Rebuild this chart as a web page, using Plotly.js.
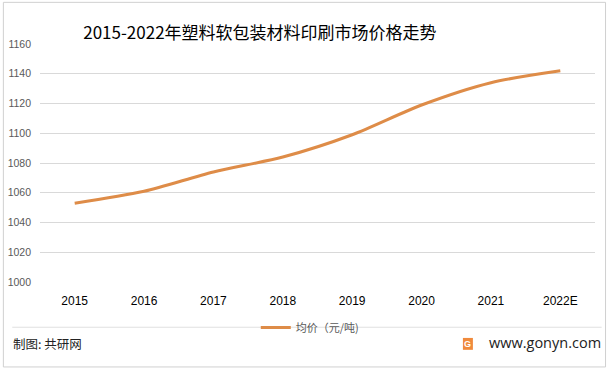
<!DOCTYPE html>
<html>
<head>
<meta charset="utf-8">
<script src="https://cdn.plot.ly/plotly-3.0.1.min.js"></script>
<style>
html,body{margin:0;padding:0;background:#fff;}
#chart{width:613px;height:371px;}
</style>
</head>
<body>
<div id="chart"></div>
<script>
const categories = ["2015","2016","2017","2018","2019","2020","2021","2022E"];
const avgPrice = [1053, 1061, 1074, 1084, 1099, 1119, 1134, 1142];
const yTicks = [1000,1020,1040,1060,1080,1100,1120,1140,1160];
const seriesName = "均价（元/吨)";
const titleText = "2015-2022年塑料软包装材料印刷市场价格走势";
const sourceText = "制图: 共研网";
const siteText = "www.gonyn.com";
const watermarkText = "<b>G共研网</b>";
const watermarkSub = "w w w . g o n y n . c o m";

const trace = {
  x: categories,
  y: avgPrice,
  type: "scatter",
  mode: "lines",
  name: seriesName,
  line: {color: "#DE8C48", width: 3, shape: "spline", smoothing: 0.8}
};

// faint watermark annotations (paper coordinates)
const wmSpots = [[0.20, 1.08], [0.63, 0.73], [0.57, 0.12], [0.77, 0.33], [1.02, 0.80]];
const wmAnn = [];
wmSpots.forEach(p => {
  wmAnn.push({text: watermarkText, xref: "paper", yref: "paper", x: p[0], y: p[1], showarrow: false,
    textangle: -12, font: {family: "Noto Sans CJK SC", size: 40, color: "rgba(0,0,0,0.018)"}});
  wmAnn.push({text: watermarkSub, xref: "paper", yref: "paper", x: p[0] + 0.01, y: p[1] - 0.13, showarrow: false,
    textangle: -12, font: {family: "Liberation Sans", size: 13, color: "rgba(0,0,0,0.022)"}});
});

const layout = {
  width: 613, height: 371,
  paper_bgcolor: "#fff", plot_bgcolor: "#fff",
  margin: {l: 40, r: 18, t: 44, b: 89},
  title: {text: titleText, x: 0.424, xanchor: "center", y: 0.912, yanchor: "middle",
          font: {family: "Noto Sans CJK SC", size: 17, color: "#000"}},
  xaxis: {type: "category", showgrid: false, zeroline: false, showline: false, ticks: "",
          tickfont: {family: "Liberation Sans", size: 12, color: "#000"}, ticklabelstandoff: 10,
          range: [-0.5, 7.5]},
  yaxis: {range: [1000, 1160], tickvals: yTicks, showgrid: true, gridcolor: "#d9d9d9", gridwidth: 1,
          zeroline: false, showline: false, ticks: "", ticklabelstandoff: 8,
          tickfont: {family: "Liberation Sans", size: 10.5, color: "#595959"}},
  showlegend: true,
  legend: {orientation: "h", x: 0.487, xanchor: "center", y: -0.13, yanchor: "top",
           font: {family: "Noto Sans CJK SC", size: 11, color: "#595959"}, bgcolor: "rgba(0,0,0,0)",
           itemwidth: 30},
  shapes: [
    {type: "rect", xref: "paper", yref: "paper", x0: -0.066, x1: 1.019, y0: -0.357, y1: 1.175,
     line: {color: "#d0d0d0", width: 1}, layer: "below"},
    {type: "line", xref: "paper", yref: "paper", x0: -0.05, x1: 1.012, y0: -0.19, y1: -0.19,
     line: {color: "#e0e0e0", width: 1}, layer: "below"},
    {type: "rect", xref: "paper", yref: "paper", x0: 0.762, x1: 0.780, y0: -0.285, y1: -0.235,
     fillcolor: "#F08A3C", line: {width: 0}}
  ],
  annotations: wmAnn.concat([
    {text: sourceText, xref: "paper", yref: "paper", x: -0.052, y: -0.26, xanchor: "left", yanchor: "middle",
     showarrow: false, font: {family: "Noto Sans CJK SC", size: 12.5, color: "#222"}},
    {text: siteText, xref: "paper", yref: "paper", x: 1.015, y: -0.255, xanchor: "right", yanchor: "middle",
     showarrow: false, font: {family: "Open Sans", size: 14.5, color: "#222"}},
    {text: "<b>G</b>", xref: "paper", yref: "paper", x: 0.771, y: -0.26, xanchor: "center", yanchor: "middle",
     showarrow: false, font: {family: "Liberation Sans", size: 9, color: "#fff"}}
  ])
};

Plotly.newPlot("chart", [trace], layout, {displayModeBar: false, staticPlot: true});
</script>
</body>
</html>
